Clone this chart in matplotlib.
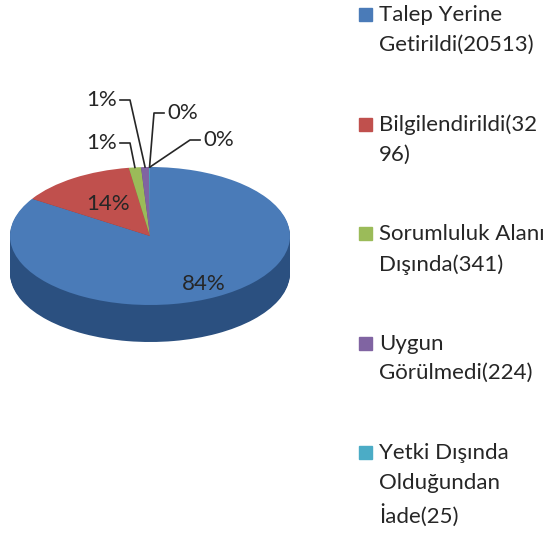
import numpy as np
import matplotlib
matplotlib.use('Agg')
import matplotlib.pyplot as plt
from matplotlib.patches import Rectangle

# data
names = ['Talep Yerine\nGetirildi(20513)', 'Bilgilendirildi(32\n96)',
         'Sorumluluk Alanı\nDışında(341)', 'Uygun\nGörülmedi(224)',
         'Yetki Dışında\nOlduğundan\nİade(25)']
values = [20513, 3296, 341, 224, 25, 0]   # last slice only shows its 0% label
top_colors = ['#4A7BB8', '#C0504D', '#9BBB59', '#8064A2', '#4BACC6', '#F79646']
side_colors = ['#2B5080', '#8C3431', '#6E8A3A', '#5A4577', '#2F7F95', '#B86A2A']

plt.rcParams['font.family'] = ['Lato', 'DejaVu Sans']
W, H = 554, 535
fig = plt.figure(figsize=(W / 100, H / 100), dpi=100)

def fr(x0, y0, w, h):
    return [x0 / W, 1 - (y0 + h) / H, w / W, h / H]

# pie centre (150, 236) px, semi axes 140 x 69 px, depth 37 px
cx, cy, rx, ry, dep = 150, 236, 140, 69, 37
ax = fig.add_axes(fr(0, 140, 300, 220))

def px(x, y):
    return (x - cx) / rx, (cy - y) / ry

n = 40
for k in range(n, 0, -1):
    ax.pie(values, colors=side_colors, startangle=90, counterclock=False,
           center=(0, -dep / ry * k / n), wedgeprops=dict(linewidth=0))
ax.pie(values, colors=top_colors, startangle=90, counterclock=False,
       wedgeprops=dict(linewidth=0))
ax.set_aspect('auto')
ax.set_xlim(-cx / rx, (300 - cx) / rx)
ax.set_ylim(-(360 - cy) / ry, (cy - 140) / ry)
ax.axis('off')

total = sum(values)
pcts = ['%d%%' % round(v / total * 100) for v in values]
frac = np.cumsum([0] + values[:-1]) / total + np.array(values) / total / 2
ang = np.radians(90 - 360 * frac)

# inner labels
for i, r in [(0, 0.8), (1, 0.55)]:
    ax.text(r * np.cos(ang[i]), r * np.sin(ang[i]), pcts[i], ha='center',
            va='center', fontsize=16, color='#262626')

# labels with leader lines: (text anchor px, side)
lab_pos = {2: (117, 143, 'right'), 3: (117, 100, 'right'),
           4: (167, 113, 'left'), 5: (203, 140, 'left')}
for i, (tx, ty, side) in lab_pos.items():
    x0, y0 = px(tx, ty)
    gap = 3 / rx
    g = 10 / rx if side == 'right' else -10 / rx
    sx = x0 + gap if side == 'right' else x0 - gap
    ex, ey = np.cos(ang[i]), np.sin(ang[i])
    ax.plot([sx, sx + g, ex], [y0, y0, ey], color='#262626', lw=1.2,
            clip_on=False)
    ax.text(x0, y0, pcts[i], ha=side, va='center', fontsize=16,
            color='#262626')

# legend
for i, name in enumerate(names):
    top = 8 + i * 109.5
    fig.add_artist(Rectangle((359 / W, 1 - (top + 13) / H), 13 / W, 13 / H,
                             transform=fig.transFigure, color=top_colors[i]))
    fig.text(379 / W, 1 - (top - 3) / H, name, ha='left', va='top',
             fontsize=16, color='#262626', linespacing=1.6)

fig.savefig('out.png', dpi=100)
